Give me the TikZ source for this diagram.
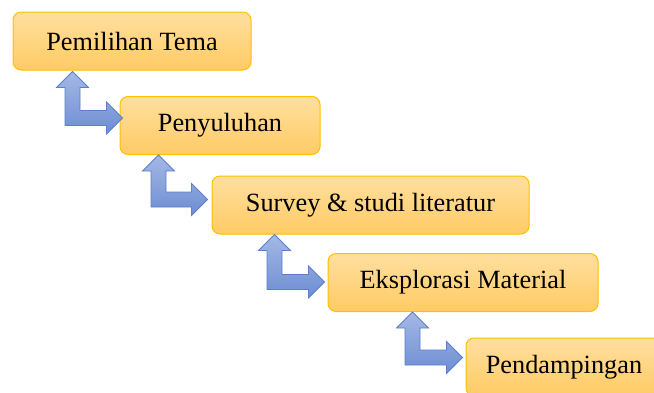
\documentclass[tikz,border=0pt]{standalone}
\usepackage{fontspec}
\setmainfont{LiberationSerif}[Extension=.ttf, UprightFont=*-Regular, BoldFont=*-Bold]
\usetikzlibrary{calc}
\definecolor{boxline}{HTML}{FFC000}
\definecolor{boxtop}{HTML}{FFDF9F}
\definecolor{boxbottom}{HTML}{FFCB64}
\definecolor{arrowline}{HTML}{5B7FC9}
\definecolor{arrowtop}{HTML}{A4B8E5}
\definecolor{arrowbottom}{HTML}{6D8DD3}
\tikzset{
  tahap/.style={draw=boxline, line width=1pt, rounded corners=8pt, top color=boxtop,
    bottom color=boxbottom, minimum height=58pt, inner sep=0pt,
    font=\rmfamily\fontsize{26.3}{30}\selectfont},
  panah/.style={draw=arrowline, line width=0.8pt, top color=arrowtop, bottom color=arrowbottom}
}
\newcommand{\panahsiku}[2]{%
  \path[panah] let \p1=(#1), \p2=(#2) in
    (\x1,\y1) -- (\x1+16pt,\y1-16pt) -- (\x1+7.5pt,\y1-16pt) -- (\x1+7.5pt,\y2+7.5pt)
    -- (\x2-16pt,\y2+7.5pt) -- (\x2-16pt,\y2+16pt) -- (\x2,\y2) -- (\x2-16pt,\y2-16pt)
    -- (\x2-16pt,\y2-7.5pt) -- (\x1-7.5pt,\y2-7.5pt) -- (\x1-7.5pt,\y1-16pt)
    -- (\x1-16pt,\y1-16pt) -- cycle;}

\begin{document}
\begin{tikzpicture}[x=1pt,y=-1pt]
  \useasboundingbox (0,0) rectangle (654,392);
  \node[tahap, minimum width=238pt] (tema) at (132,41) {Pemilihan Tema};
  \node[tahap, minimum width=200pt] (suluh) at (220,125.5) {Penyuluhan};
  \node[tahap, minimum width=317pt] (survey) at (370.5,205) {Survey \& studi literatur};
  \node[tahap, minimum width=270pt] (eksplor) at (463,282.5) {Eksplorasi Material};
  \node[tahap, minimum width=196pt] (damping) at (564,367) {Pendampingan};
  \panahsiku{[xshift=60pt,yshift=-1pt]tema.south west}{[xshift=3pt,yshift=-22pt]suluh.north west}
  \panahsiku{[xshift=39pt]suluh.south west}{[xshift=-4pt,yshift=-24pt]survey.north west}
  \panahsiku{[xshift=63pt]survey.south west}{[xshift=-3pt,yshift=-29pt]eksplor.north west}
  \panahsiku{[xshift=85pt]eksplor.south west}{[xshift=-3pt,yshift=-20pt]damping.north west}
\end{tikzpicture}
\end{document}
